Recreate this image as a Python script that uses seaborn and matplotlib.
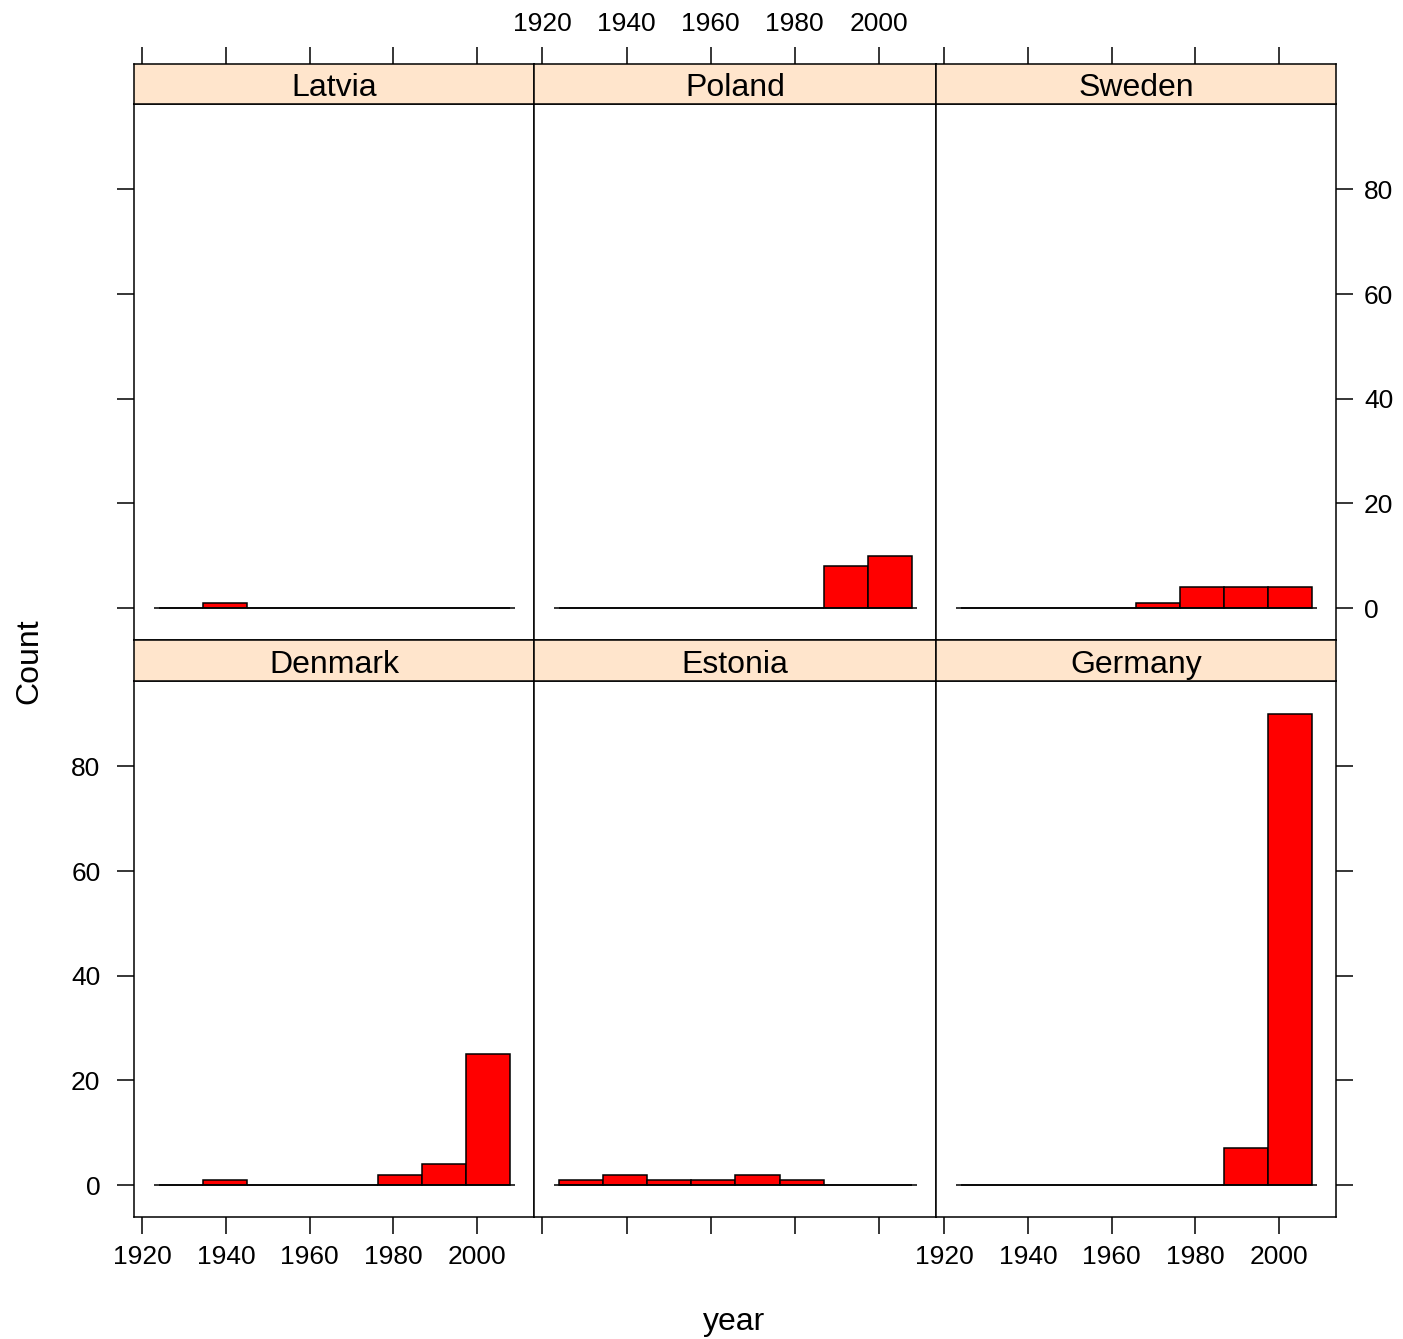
import numpy as np
import pandas as pd
import matplotlib
matplotlib.use("Agg")
import matplotlib.pyplot as plt
import seaborn as sns

sns.set_style("ticks")
plt.rcParams['font.family'] = ['Liberation Sans', 'DejaVu Sans']
plt.rcParams['text.color'] = 'black'
plt.rcParams['axes.labelcolor'] = 'black'

# ---- data ----
# histogram breaks (years), shared by all panels
year_breaks = [1923.9, 1934.4, 1944.9, 1955.4, 1965.9, 1976.4, 1986.9, 1997.4, 2007.9]

# counts per bin for each country (8 bins)
denmark = [0, 1, 0, 0, 0, 2, 4, 25]
estonia = [1, 2, 1, 1, 2, 1, 0, 0]
germany = [0, 0, 0, 0, 0, 0, 7, 90]
latvia = [0, 1, 0, 0, 0, 0, 0, 0]
poland = [0, 0, 0, 0, 0, 0, 8, 10]
sweden = [0, 0, 0, 0, 1, 4, 4, 4]

# lattice layout: top row then bottom row
top_row = ['Latvia', 'Poland', 'Sweden']
bottom_row = ['Denmark', 'Estonia', 'Germany']

x_ticks = [1920, 1940, 1960, 1980, 2000]
y_ticks = [0, 20, 40, 60, 80]

counts = {'Denmark': denmark, 'Estonia': estonia, 'Germany': germany,
          'Latvia': latvia, 'Poland': poland, 'Sweden': sweden}

breaks = np.array(year_breaks)
mids = (breaks[:-1] + breaks[1:]) / 2
rows = []
for country, c in counts.items():
    for m, n in zip(mids, c):
        rows.append({'country': country, 'year': m, 'n': n})
df = pd.DataFrame(rows)

# ---- layout (pixels of a 1403x1339 canvas) ----
W, H = 1403, 1339
fig = plt.figure(figsize=(W / 100, H / 100), dpi=100)

col_x = [134, 534, 936, 1336]
row_y = {'top': (64, 104, 640), 'bottom': (640, 681, 1217)}  # strip top, panel top, panel bottom

XLIM = (1918.0, 2013.6)
YLIM = (-6.1, 96.3)
STRIP = '#FFE5CC'
LW = 1.1
TICK_LEN = 12.2
TICK_FS = 19


def frac_rect(x0, x1, y0, y1):
    return [x0 / W, 1 - y1 / H, (x1 - x0) / W, (y1 - y0) / H]


def style_spines(ax):
    for s in ax.spines.values():
        s.set_linewidth(LW)
        s.set_color('black')
        s.set_visible(True)


for row_name, names in (('top', top_row), ('bottom', bottom_row)):
    s_top, p_top, p_bot = row_y[row_name]
    for j, name in enumerate(names):
        ax = fig.add_axes(frac_rect(col_x[j], col_x[j + 1], p_top, p_bot))
        sub = df[df['country'] == name]
        sns.histplot(data=sub, x='year', weights='n', bins=year_breaks, ax=ax,
                     color='red', edgecolor='black', linewidth=LW, alpha=1)
        # zero line across the breaks (as lattice draws it)
        ax.hlines(0, breaks[0] - 1.2, breaks[-1] + 1.2, color='black', lw=LW, zorder=1)
        ax.set_xlim(XLIM)
        ax.set_ylim(YLIM)
        ax.set_xlabel('')
        ax.set_ylabel('')
        style_spines(ax)
        ax.set_xticks(x_ticks)
        ax.set_yticks(y_ticks)
        ax.tick_params(length=TICK_LEN, width=LW, labelsize=TICK_FS, colors='black')

        # x ticks: bottom row has bottom ticks, labels alternate
        if row_name == 'bottom':
            ax.tick_params(axis='x', bottom=True, top=False, labelbottom=(j != 1),
                           labeltop=False, pad=8)
        else:
            ax.tick_params(axis='x', bottom=False, top=False, labelbottom=False, labeltop=False)

        # y ticks: left column on the left, right column on the right
        if j == 0:
            ax.tick_params(axis='y', left=True, right=False,
                           labelleft=(row_name == 'bottom'), labelright=False, pad=12)
        elif j == 2:
            ax.tick_params(axis='y', left=False, right=True, labelleft=False,
                           labelright=(row_name == 'top'), pad=8)
        else:
            ax.tick_params(axis='y', left=False, right=False, labelleft=False, labelright=False)

        # strip
        sax = fig.add_axes(frac_rect(col_x[j], col_x[j + 1], s_top, p_top))
        sax.set_facecolor(STRIP)
        sax.set_xlim(XLIM)
        sax.set_ylim(0, 1)
        style_spines(sax)
        sax.set_yticks([])
        sax.text(0.5, 0.4, name, transform=sax.transAxes, ha='center', va='center',
                 fontsize=23, color='black')
        if row_name == 'top':
            sax.set_xticks(x_ticks)
            sax.tick_params(axis='x', bottom=False, top=True, labelbottom=False,
                            labeltop=(j == 1), length=TICK_LEN, width=LW,
                            labelsize=TICK_FS, colors='black', pad=8)
        else:
            sax.set_xticks([])

fig.text(734 / W, 1 - 1322 / H, 'year', ha='center', va='center', fontsize=23, color='black')
fig.text(29 / W, 1 - 661 / H, 'Count', ha='center', va='center', fontsize=23,
         rotation=90, color='black')

fig.savefig('out.png', dpi=100, facecolor='white')
